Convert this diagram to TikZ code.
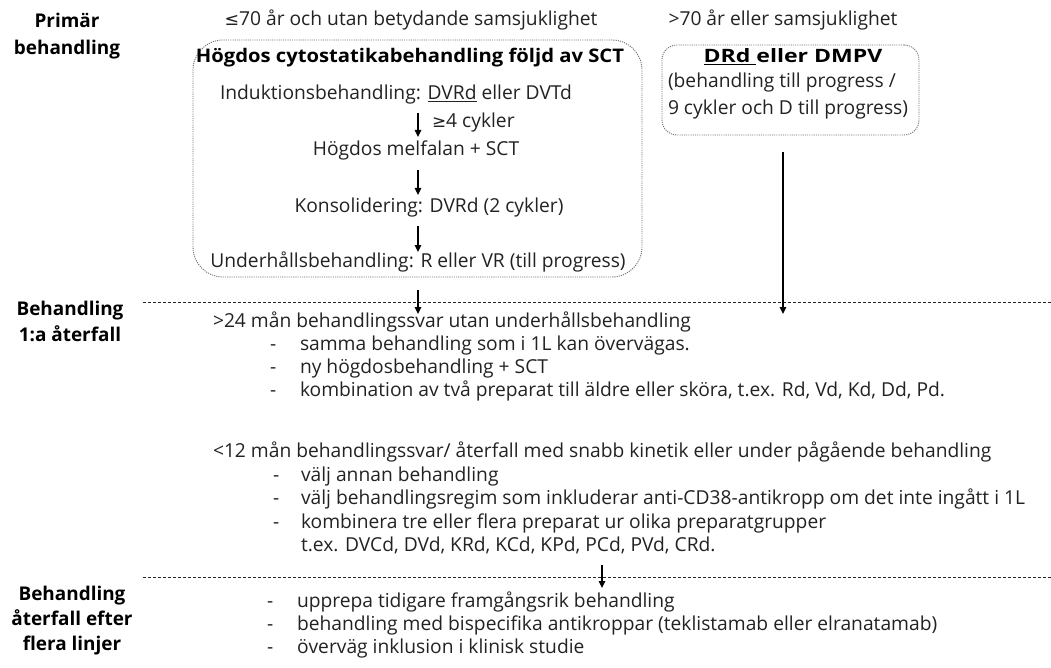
\documentclass[tikz,border=0pt]{standalone}
\usepackage{fontspec}
\setmainfont{Open Sans}
\newfontfamily\dvs{DejaVu Sans}
\newcommand{\myle}{{\dvs\fontsize{17.5}{23}\selectfont ≤}}
\newcommand{\myge}{{\dvs\fontsize{17}{23}\selectfont ≥}}
\usetikzlibrary{arrows.meta}
\definecolor{txt}{HTML}{222222}
\definecolor{boxline}{HTML}{6E6E6E}
\begin{document}
\begin{tikzpicture}[x=1bp,y=-1bp,
  every node/.style={inner sep=0pt, outer sep=0pt, text height=0.75em, text depth=0.25em,
    font=\fontsize{19.3}{23}\selectfont, text=txt},
  lbl/.style={font=\bfseries\fontsize{19}{26}\selectfont, text=black},
  ttl/.style={font=\bfseries\fontsize{18.8}{23}\selectfont\addfontfeatures{FakeStretch=1.08}, text=black},
  ttlb/.style={font=\bfseries\fontsize{18.5}{23}\selectfont\addfontfeatures{FakeStretch=1.25}, text=black},
  bt/.style={anchor=west},
  box/.style={draw=boxline, line width=0.9bp, dash pattern=on 1.1bp off 1.1bp},
  arr/.style={-{Triangle[length=7bp,width=6.5bp]}, line width=1.4bp, draw=black},
  sepline/.style={draw=black!85, line width=0.8bp, dash pattern=on 3.2bp off 1.8bp}]
\useasboundingbox (0,0) rectangle (1051,668);

% section labels
\node[lbl] (p1) at (67,25) {Primär};
\node[lbl] (p2) at (67,52) {behandling};
\node[lbl] (m1) at (70,313) {Behandling};
\node[lbl] (m2) at (70,339) {1:a återfall};
\node[lbl] (q1) at (72,598) {Behandling};
\node[lbl] (q2) at (72,623) {återfall efter};
\node[lbl] (q3) at (72,648) {flera linjer};

% top headers
\node (h1) at (411,23) {\myle 70 år och utan betydande samsjuklighet};
\node (h2) at (783,23) {>70 år eller samsjuklighet};

% left box
\node[box, rounded corners=30bp, anchor=north west, minimum width=449bp, minimum height=237bp] (lbox) at (193,40) {};
\node[ttl] (t0) at (410,60) {Högdos cytostatikabehandling följd av SCT};
\node[bt] (t1) at (220,97) {Induktionsbehandling: \underline{DVRd} eller DVTd};
\node[bt] (c1) at (432,125) {\myge 4 cykler};
\node (t2) at (416,153) {Högdos melfalan + SCT};
\node (t3) at (429,210) {Konsolidering: DVRd (2 cykler)};
\node (t4) at (418,265) {Underhållsbehandling: R eller VR (till progress)};

% right box
\node[box, rounded corners=15bp, anchor=north west, minimum width=257bp, minimum height=90bp] (rbox) at (662,45) {};
\node[ttlb] (r1) at (793,60) {\underline{DRd\ }eller DMPV};
\node[bt] (r2) at (668,85) {(behandling till progress /};
\node[bt] (r3) at (668,112) {9 cykler och D till progress)};

% separators
\coordinate (s1a) at (143,302); \coordinate (s1b) at (1051,302);
\coordinate (s2a) at (143,577); \coordinate (s2b) at (1051,577);
\draw[sepline] (s1a) -- (s1b);
\draw[sepline] (s2a) -- (s2b);

% arrows
\coordinate (a1s) at (418,113); \coordinate (a1e) at (418,137);
\coordinate (a2s) at (418,170); \coordinate (a2e) at (418,195);
\coordinate (a3s) at (418,226); \coordinate (a3e) at (418,252);
\coordinate (a4s) at (418,290); \coordinate (a4e) at (418,314);
\coordinate (a5s) at (783,152); \coordinate (a5e) at (783,314);
\coordinate (a6s) at (602,565); \coordinate (a6e) at (602,588);
\draw[arr] (a1s) -- (a1e);
\draw[arr] (a2s) -- (a2e);
\draw[arr] (a3s) -- (a3e);
\draw[arr] (a4s) -- (a4e);
\draw[arr] (a5s) -- (a5e);
\draw[arr] (a6s) -- (a6e);

% section 2
\node[bt] (b0) at (213,325) {>24 mån behandlingssvar utan underhållsbehandling};
\node[bt] (b1d) at (270,348) {-}; \node[bt] (b1) at (300,348) {samma behandling som i 1L kan övervägas.};
\node[bt] (b2d) at (270,371) {-}; \node[bt] (b2) at (300,371) {ny högdosbehandling + SCT};
\node[bt] (b3d) at (270,394) {-}; \node[bt] (b3) at (300,394) {kombination av två preparat till äldre eller sköra, t.ex. Rd, Vd, Kd, Dd, Pd.};

\node[bt] (c0) at (213,455) {<12 mån behandlingssvar/ återfall med snabb kinetik eller under pågående behandling};
\node[bt] (c1d) at (273,479) {-}; \node[bt] (cc1) at (301,479) {välj annan behandling};
\node[bt] (c2d) at (273,502) {-}; \node[bt] (cc2) at (301,502) {välj behandlingsregim som inkluderar anti-CD38-antikropp om det inte ingått i 1L};
\node[bt] (c3d) at (273,526) {-}; \node[bt] (cc3) at (301,526) {kombinera tre eller flera preparat ur olika preparatgrupper};
\node[bt] (cc4) at (301,549) {t.ex. DVCd, DVd, KRd, KCd, KPd, PCd, PVd, CRd.};

% section 3
\node[bt] (d1d) at (267,605) {-}; \node[bt] (d1) at (297,605) {upprepa tidigare framgångsrik behandling};
\node[bt] (d2d) at (267,628) {-}; \node[bt] (d2) at (297,628) {behandling med bispecifika antikroppar (teklistamab eller elranatamab)};
\node[bt] (d3d) at (267,651) {-}; \node[bt] (d3) at (297,651) {överväg inklusion i klinisk studie};
\end{tikzpicture}
\end{document}
